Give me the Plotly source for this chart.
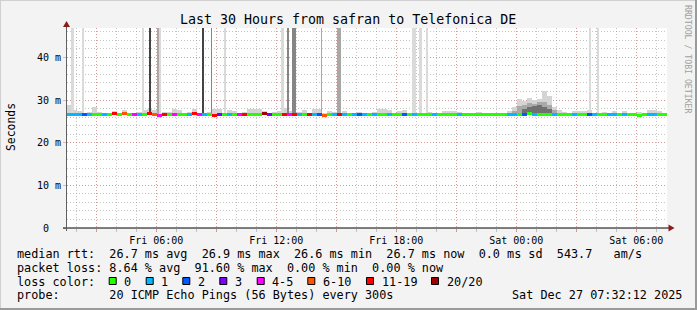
import plotly.graph_objects as go

# ---------------- data ----------------
T_START = 1.5367   # hours after Fri 00:00  -> Fri 01:32:12
T_END = 31.5367    # Sat 07:32:12
BIN_H = 0.25       # 15 minute consolidation bins

loss_labels = ["0", "1", "2", "3", "4-5", "6-10", "11-19", "20/20"]
loss_colors = ["#26ff00", "#00b8ff", "#0059ff", "#7e00ff",
               "#ff00ff", "#ff5500", "#ff0000", "#a10000"]

# loss class per 15-min bin (index into loss_labels)
loss_class = [
    1, 1, 1, 2, 1, 0, 0, 1, 0, 6,
    0, 5, 0, 4, 1, 0, 6, 5, 4, 6,
    0, 4, 0, 0, 1, 6, 4, 1, 0, 6,
    3, 0, 1, 0, 4, 6, 0, 0, 0, 7,
    3, 0, 0, 6, 4, 6, 1, 0, 6, 1,
    2, 5, 0, 1, 6, 1, 0, 1, 2, 1,
    0, 1, 0, 0, 1, 0, 0, 2, 0, 1,
    0, 0, 0, 1, 0, 0, 0, 0, 1, 0,
    0, 0, 0, 0, 0, 0, 0, 0, 1, 1,
    0, 2, 0, 1, 0, 0, 0, 1, 0, 0,
    0, 1, 0, 0, 2, 1, 0, 0, 1, 1,
    0, 1, 0, 0, 0, 0, 1, 1, 0, 0,
]

# median rtt per bin (ms)
median_ms = [
    26.7, 26.7, 26.7, 26.6, 26.7, 26.7, 26.7, 26.7, 26.7, 26.85,
    26.7, 26.75, 26.7, 26.7, 26.7, 26.7, 26.75, 26.7, 26.4, 26.7,
    26.7, 26.7, 26.7, 26.7, 26.7, 26.85, 26.7, 26.7, 26.7, 26.45,
    26.55, 26.7, 26.7, 26.7, 26.6, 26.7, 26.7, 26.7, 26.7, 26.85,
    26.7, 26.7, 26.7, 26.7, 26.6, 26.7, 26.7, 26.7, 26.7, 26.7,
    26.7, 26.45, 26.7, 26.7, 26.7, 26.7, 26.7, 26.7, 26.7, 26.7,
    26.7, 26.7, 26.7, 26.7, 26.7, 26.7, 26.7, 26.65, 26.7, 26.7,
    26.7, 26.7, 26.7, 26.7, 26.7, 26.7, 26.7, 26.7, 26.7, 26.7,
    26.7, 26.7, 26.7, 26.7, 26.7, 26.7, 26.7, 26.7, 26.7, 26.7,
    26.7, 26.7, 26.75, 26.7, 26.7, 26.7, 26.7, 26.7, 26.7, 26.7,
    26.7, 26.7, 26.7, 26.7, 26.7, 26.7, 26.7, 26.7, 26.7, 26.7,
    26.7, 26.7, 26.7, 26.7, 26.45, 26.7, 26.7, 26.5, 26.7, 26.7,
]

# top of the light smoke per bin (ms)
smoke_light = [
    28.8, 27.6, 27.5, 27.0, 27.2, 28.4, 27.3, 27.0, 26.9, 27.4,
    27.0, 27.6, 27.0, 27.0, 27.3, 27.6, 27.9, 27.6, 27.0, 27.2,
    27.2, 27.8, 27.6, 27.0, 27.3, 27.8, 27.0, 27.0, 27.2, 28.0,
    28.0, 27.0, 27.6, 27.4, 27.0, 27.2, 27.9, 27.9, 27.9, 27.5,
    27.0, 27.2, 27.5, 28.1, 27.5, 27.0, 27.2, 27.6, 27.0, 27.8,
    27.8, 27.0, 27.5, 27.3, 27.0, 27.4, 27.0, 27.0, 27.3, 27.0,
    27.0, 27.3, 28.0, 28.0, 27.6, 27.0, 27.5, 27.6, 27.0, 27.2,
    27.0, 27.0, 27.3, 27.0, 27.0, 27.4, 27.5, 27.5, 27.2, 27.0,
    27.0, 27.0, 27.2, 27.0, 27.0, 27.0, 27.0, 27.0, 27.4, 28.3,
    30.2, 29.8, 30.5, 30.0, 30.3, 32.0, 31.0, 28.4, 27.6, 27.2,
    27.0, 27.4, 27.5, 27.5, 27.6, 27.0, 27.0, 27.2, 27.0, 27.5,
    27.0, 27.4, 27.0, 27.0, 27.3, 27.0, 27.6, 27.6, 27.5, 27.0,
]

# denser smoke around Sat 00:00
mid_bins = [89, 90, 91, 92, 93, 94, 95, 96, 97]
mid_top = [27.5, 28.5, 28.8, 29.3, 29.0, 29.5, 29.5, 28.8, 27.6]
dark_bins = [91, 92, 93, 94, 95, 96]
dark_top = [28.0, 28.3, 28.5, 28.8, 28.4, 28.0]

# tall smoke spikes (start hour, duration hours, number of pings off the chart)
spike_start = [1.74, 2.29, 5.29, 5.64, 6.02, 6.14, 8.29, 8.74, 9.39, 12.24,
               12.54, 12.79, 14.24, 15.04, 18.79, 19.14, 19.49, 27.64, 28.04]
spike_len = [0.15, 0.10, 0.10, 0.10, 0.12, 0.10, 0.10, 0.05, 0.10, 0.15,
             0.10, 0.20, 0.05, 0.20, 0.20, 0.15, 0.10, 0.10, 0.10]
spike_level = [1, 1, 1, 4, 2, 1, 4, 3, 1, 1, 3, 3, 2, 2, 1, 1, 1, 1, 1]

x_tick_hours = [3, 6, 9, 12, 15, 18, 21, 24, 27, 30]
x_tick_text = ["", "Fri 06:00", "", "Fri 12:00", "", "Fri 18:00", "", "Sat 00:00", "", "Sat 06:00"]
y_tick_vals = [0, 10, 20, 30, 40]
y_tick_text = ["0\u00a0\u00a0", "10 m", "20 m", "30 m", "40 m"]

title_text = "Last 30 Hours from safran to Telefonica DE"
row_rtt = "median rtt:  26.7 ms avg  26.9 ms max  26.6 ms min  26.7 ms now  0.0 ms sd  543.7   am/s"
row_loss = "packet loss: 8.64 % avg  91.60 % max  0.00 % min  0.00 % now"
row_color = "loss color:"
row_probe = "probe:       20 ICMP Echo Pings (56 Bytes) every 300s"
stamp = "Sat Dec 27 07:32:12 2025"
watermark = "RRDTOOL / TOBI OETIKER"

# ---------------- style ----------------
W, H = 697, 310
L, R, T, B = 67, 30, 28, 82
Y_MAX = 46.875
MONO = "DejaVu Sans Mono"
LINE_MS = 3 * Y_MAX / 200.0
SMOKE_BASE = 26.4
SHADES = {1: "#dadada", 2: "#a8a8a8", 3: "#858585", 4: "#444444"}
LIGHT, MID, DARK = "#d4d4d4", "#a9a9a9", "#707070"


def px(X):
    return (X - L) / 600.0


def py(Y):
    return (T + 200 - Y) / 200.0


def nb(s):
    return s.replace(" ", "\u00a0")


centers = [T_START + (i + 0.5) * BIN_H for i in range(len(median_ms))]

fig = go.Figure()

# light smoke
fig.add_trace(go.Bar(
    x=centers, base=[SMOKE_BASE] * len(centers),
    y=[max(v - SMOKE_BASE, 0) for v in smoke_light],
    width=BIN_H, marker=dict(color=LIGHT, line=dict(width=0)),
    hoverinfo="skip", showlegend=False))
# mid smoke
fig.add_trace(go.Bar(
    x=[centers[i] for i in mid_bins], base=[SMOKE_BASE] * len(mid_bins),
    y=[v - SMOKE_BASE for v in mid_top],
    width=BIN_H, marker=dict(color=MID, line=dict(width=0)),
    hoverinfo="skip", showlegend=False))
# dark smoke
fig.add_trace(go.Bar(
    x=[centers[i] for i in dark_bins], base=[SMOKE_BASE] * len(dark_bins),
    y=[v - SMOKE_BASE for v in dark_top],
    width=BIN_H, marker=dict(color=DARK, line=dict(width=0)),
    hoverinfo="skip", showlegend=False))
# tall spikes
fig.add_trace(go.Bar(
    x=[s + d / 2 for s, d in zip(spike_start, spike_len)],
    base=[SMOKE_BASE] * len(spike_start),
    y=[60 - SMOKE_BASE] * len(spike_start),
    width=spike_len,
    marker=dict(color=[SHADES[k] for k in spike_level], line=dict(width=0)),
    hoverinfo="skip", showlegend=False))
# median line coloured by loss
fig.add_trace(go.Bar(
    x=centers, base=[m - LINE_MS / 2 for m in median_ms],
    y=[LINE_MS] * len(median_ms), width=BIN_H,
    marker=dict(color=[loss_colors[c] for c in loss_class], line=dict(width=0)),
    hoverinfo="skip", showlegend=False))

minor_grid = "rgba(140,140,140,0.5)"
major_grid = "rgba(230,90,90,0.42)"

fig.update_layout(
    width=W, height=H, autosize=False,
    margin=dict(l=L, r=R, t=T, b=B, pad=0),
    paper_bgcolor="#f3f3f3", plot_bgcolor="#ffffff",
    barmode="overlay", bargap=0, showlegend=False, hovermode=False,
    font=dict(family=MONO, color="#000000", size=10),
    xaxis=dict(range=[T_START, T_END], showline=False, zeroline=False,
               tickmode="array", tickvals=x_tick_hours, ticktext=x_tick_text,
               ticks="outside", ticklen=3, tickcolor=major_grid, tickwidth=1,
               showgrid=True, gridcolor=major_grid, gridwidth=1, griddash="1px,2px",
               tickfont=dict(family=MONO, size=10, color="#000"),
               minor=dict(dtick=1, tick0=0, showgrid=True, gridcolor=minor_grid,
                          griddash="1px,2px", gridwidth=1, ticks="outside",
                          ticklen=3, tickcolor=minor_grid),
               fixedrange=True),
    yaxis=dict(range=[0, Y_MAX], showline=False, zeroline=False,
               tickmode="array", tickvals=y_tick_vals, ticktext=y_tick_text,
               ticks="outside", ticklen=3, tickcolor=major_grid, tickwidth=1,
               showgrid=True, gridcolor=major_grid, gridwidth=1, griddash="1px,2px",
               tickfont=dict(family=MONO, size=10, color="#000"),
               minor=dict(dtick=2, tick0=0, showgrid=True, gridcolor=minor_grid,
                          griddash="1px,2px", gridwidth=1),
               fixedrange=True),
)

shapes = []
# frame
shapes.append(dict(type="line", xref="paper", yref="paper", x0=px(0), x1=px(697), y0=py(0.5), y1=py(0.5),
                   line=dict(color="#d0d0d0", width=1)))
shapes.append(dict(type="line", xref="paper", yref="paper", x0=px(0.5), x1=px(0.5), y0=py(0), y1=py(310),
                   line=dict(color="#d0d0d0", width=1)))
shapes.append(dict(type="line", xref="paper", yref="paper", x0=px(0), x1=px(697), y0=py(309), y1=py(309),
                   line=dict(color="#9a9a9a", width=2)))
shapes.append(dict(type="line", xref="paper", yref="paper", x0=px(696), x1=px(696), y0=py(0), y1=py(310),
                   line=dict(color="#9a9a9a", width=2)))
# axes
shapes.append(dict(type="line", xref="paper", yref="paper", x0=px(63), x1=px(670), y0=py(228), y1=py(228),
                   line=dict(color="#000000", width=1), layer="above"))
shapes.append(dict(type="line", xref="paper", yref="paper", x0=px(66.5), x1=px(66.5), y0=py(231), y1=py(25),
                   line=dict(color="#606060", width=1), layer="above"))
# arrows
shapes.append(dict(type="path", xref="paper", yref="paper", layer="above",
                   path="M %f %f L %f %f L %f %f Z" % (px(63), py(27), px(70), py(27), px(66.5), py(21)),
                   fillcolor="#8b1c1c", line=dict(width=0)))
shapes.append(dict(type="path", xref="paper", yref="paper", layer="above",
                   path="M %f %f L %f %f L %f %f Z" % (px(668.5), py(224.5), px(668.5), py(231.5), px(674.5), py(228)),
                   fillcolor="#8b1c1c", line=dict(width=0)))

# legend colour boxes
box_left = [108.7, 145.7, 182.3, 219.3, 256.7, 307.3, 366.0, 431.0]
annotations = []
for bx, col, lab in zip(box_left, loss_colors, loss_labels):
    shapes.append(dict(type="rect", xref="paper", yref="paper",
                       x0=px(bx + 0.5), x1=px(bx + 7.5), y0=py(284.5), y1=py(277.5),
                       fillcolor=col, line=dict(color="#000000", width=1)))
    annotations.append(dict(text=nb(lab), xref="paper", yref="paper", x=px(bx + 14.7), y=py(281.6),
                            xanchor="left", yanchor="middle", showarrow=False,
                            font=dict(family=MONO, size=11.8, color="#000"), borderpad=0))


def ann(text, X, Y, size, xanchor="left", angle=0, color="#000", family=MONO):
    annotations.append(dict(text=nb(text), xref="paper", yref="paper", x=px(X), y=py(Y),
                            xanchor=xanchor, yanchor="middle", showarrow=False, textangle=angle,
                            font=dict(family=family, size=size, color=color), borderpad=0))


ann(title_text, 347.5, 19.3, 13.3, xanchor="center")
ann(row_rtt, 16, 254.2, 11.8)
ann(row_loss, 16, 267.6, 11.8)
ann(row_color, 16, 281.6, 11.8)
ann(row_probe, 16, 294.9, 11.8)
ann(stamp, 683, 294.9, 11.8, xanchor="right")
ann("Seconds", 11, 127, 11.4, xanchor="center", angle=-90)
ann(watermark, 688, 59, 8.2, xanchor="center", angle=90, color="#a0a0a0")

fig.update_layout(shapes=shapes, annotations=annotations)

fig.write_html("out.html", include_plotlyjs=True, config={"displayModeBar": False, "staticPlot": True})
